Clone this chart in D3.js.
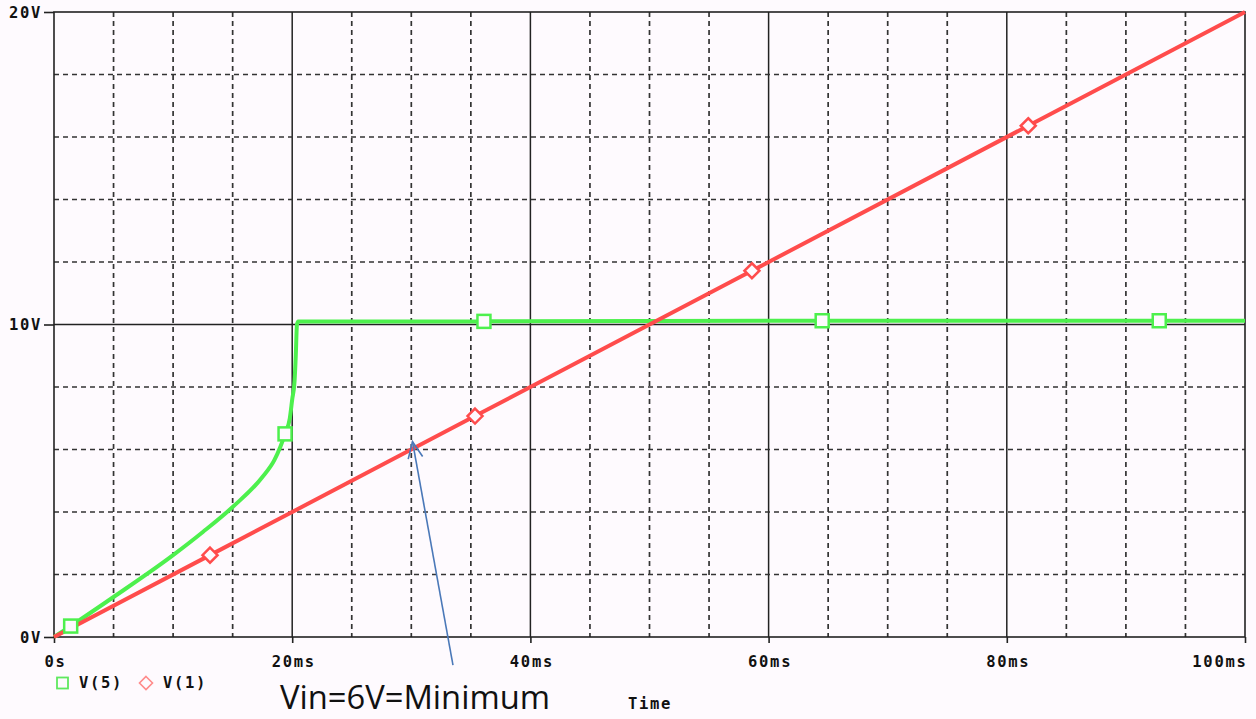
<!DOCTYPE html>
<html><head><meta charset="utf-8">
<script src="https://cdn.jsdelivr.net/npm/d3@7"></script>
<style>
html,body{margin:0;padding:0;background:#fefafe;}
svg{display:block;}
.mono{font-family:"DejaVu Sans Mono",monospace;font-weight:bold;font-size:15.5px;letter-spacing:1.7px;fill:#111;}
</style></head>
<body>
<svg id="c" width="1256" height="719"></svg>
<script>
// ---- data ----
const xTicks = [0, 20, 40, 60, 80, 100];
const xTickLabels = ["0s", "20ms", "40ms", "60ms", "80ms", "100ms"];
const yTicks = [0, 10, 20];
const yTickLabels = ["0V", "10V", "20V"];
const xGrid = [5,10,15,20,25,30,35,40,45,50,55,60,65,70,75,80,85,90,95];
const yGrid = [2,4,6,8,10,12,14,16,18];
const solidX = [20,40,60,80];
const solidY = [10];

// V(5) green trace (time ms, volts)
const v5Time = [0, 1.4, 5, 10, 12.5, 15, 17.5, 18.5, 19, 19.4, 19.8, 20.0, 20.2, 20.3, 20.4, 20.5, 36, 64.5, 100];
const v5Volt = [0, 0.35, 1.28, 2.62, 3.36, 4.16, 5.12, 5.66, 6.08, 6.5, 7.0, 7.6, 8.2, 9.0, 10.0, 10.1, 10.1, 10.12, 10.12];
const v5MarkerTime = [1.4, 19.4, 36.1, 64.5, 92.8];
const v5MarkerVolt = [0.35, 6.5, 10.1, 10.12, 10.12];

// V(1) red trace
const v1Time = [0, 13.1, 35.35, 58.6, 81.8, 100];
const v1Volt = [0, 2.62, 7.07, 11.72, 16.36, 20];
const v1MarkerTime = [13.1, 35.35, 58.6, 81.8];
const v1MarkerVolt = [2.62, 7.07, 11.72, 16.36];

const legendNames = ["V(5)", "V(1)"];
const annotationText = "Vin=6V=Minimum";
const xTitle = "Time";
// annotation arrow (data coords: ms, V) tail below axis to tip on trace
const arrowTip = [30.1, 6.25];
const arrowTail = [33.5, -0.9];

// ---- drawing ----
const GREEN = "#4df04d", RED = "#ff4c4c", BG = "#fefafe", AX = "#222";
const svg = d3.select("#c");
const x = d3.scaleLinear().domain([0, 100]).range([54, 1245]);
const y = d3.scaleLinear().domain([0, 20]).range([637, 12]);

// grid
const g = svg.append("g");
g.selectAll(".gx").data(xGrid).join("line")
  .attr("x1", d => x(d)).attr("x2", d => x(d)).attr("y1", y(20)).attr("y2", y(0))
  .attr("stroke", d => solidX.includes(d) ? AX : "#333")
  .attr("stroke-width", d => solidX.includes(d) ? 1.5 : 1.7)
  .attr("stroke-dasharray", d => solidX.includes(d) ? null : "5,4");
g.selectAll(".gy").data(yGrid).join("line")
  .attr("y1", d => y(d)).attr("y2", d => y(d)).attr("x1", x(0)).attr("x2", x(100))
  .attr("stroke", d => solidY.includes(d) ? AX : "#333")
  .attr("stroke-width", d => solidY.includes(d) ? 1.5 : 1.7)
  .attr("stroke-dasharray", d => solidY.includes(d) ? null : "5,4");

// frame
svg.append("rect").attr("x", x(0)).attr("y", y(20)).attr("width", x(100) - x(0)).attr("height", y(0) - y(20))
  .attr("fill", "none").attr("stroke", AX).attr("stroke-width", 1.6);

// axes
const xAxis = d3.axisBottom(x).tickValues(xTicks).tickSize(6).tickPadding(10)
  .tickFormat((d, i) => xTickLabels[i]);
const xa = svg.append("g").attr("transform", `translate(0,${y(0)})`).call(xAxis);
xa.select(".domain").remove();
xa.selectAll("line").attr("stroke", AX).attr("stroke-width", 1.6);
xa.selectAll("text").attr("class", "mono").attr("fill", "#111").attr("dy", "0.9em")
  .attr("text-anchor", (d, i) => i === xTicks.length - 1 ? "end" : "middle")
  .attr("dx", (d, i) => i === xTicks.length - 1 ? "2" : "1");

const yAxis = d3.axisLeft(y).tickValues(yTicks).tickSize(10).tickPadding(2)
  .tickFormat((d, i) => yTickLabels[i]);
const ya = svg.append("g").attr("transform", `translate(${x(0)},0)`).call(yAxis);
ya.select(".domain").remove();
ya.selectAll("line").attr("stroke", AX).attr("stroke-width", 1.6);
ya.selectAll("text").attr("class", "mono").attr("fill", "#111").attr("dy", "0.35em");

// traces
const line = d3.line().x(d => x(d[0])).y(d => y(d[1]));
const lineSmooth = d3.line().x(d => x(d[0])).y(d => y(d[1])).curve(d3.curveMonotoneX);
const v1 = v1Time.map((t, i) => [t, v1Volt[i]]);
const v5 = v5Time.map((t, i) => [t, v5Volt[i]]);
svg.append("path").attr("d", lineSmooth(v5)).attr("fill", "none").attr("stroke", GREEN)
  .attr("stroke-width", 4).attr("stroke-linejoin", "round");
svg.append("path").attr("d", line(v1)).attr("fill", "none").attr("stroke", RED)
  .attr("stroke-width", 4).attr("stroke-linejoin", "round");

// markers
svg.selectAll(".m5").data(v5MarkerTime).join("rect")
  .attr("x", (d) => x(d) - 6.5).attr("y", (d, i) => y(v5MarkerVolt[i]) - 6.5)
  .attr("width", 13).attr("height", 13).attr("fill", BG).attr("stroke", GREEN).attr("stroke-width", 2.5);
const diamond = (cx, cy, r) => `M${cx},${cy - r}L${cx + r},${cy}L${cx},${cy + r}L${cx - r},${cy}Z`;
svg.selectAll(".m1").data(v1MarkerTime).join("path")
  .attr("d", (d, i) => diamond(x(d), y(v1MarkerVolt[i]), 7.5))
  .attr("fill", BG).attr("stroke", RED).attr("stroke-width", 2.5);

// legend
const lg = svg.append("g");
lg.append("rect").attr("x", 57).attr("y", 677.5).attr("width", 11).attr("height", 11)
  .attr("fill", "none").attr("stroke", "#5fe85f").attr("stroke-width", 1.8);
lg.append("text").attr("class", "mono").attr("x", 79).attr("y", 683).attr("dy", "0.35em").text(legendNames[0]);
lg.append("path").attr("d", diamond(146, 683, 6.5)).attr("fill", "none").attr("stroke", "#ff8a8a").attr("stroke-width", 1.6);
lg.append("text").attr("class", "mono").attr("x", 163).attr("y", 683).attr("dy", "0.35em").text(legendNames[1]);

// x title
svg.append("text").attr("class", "mono").attr("x", 628).attr("y", 704).attr("dy", "0.35em").text(xTitle);

// annotation arrow
const tip = [x(arrowTip[0]), y(arrowTip[1])];
const tail = [x(arrowTail[0]), y(arrowTail[1])];
const ang = Math.atan2(tail[1] - tip[1], tail[0] - tip[0]);
const hl = 18, ha = 0.42;
const ARROW = "#4a78b8";
svg.append("line").attr("x1", tail[0]).attr("y1", tail[1]).attr("x2", tip[0]).attr("y2", tip[1])
  .attr("stroke", ARROW).attr("stroke-width", 1.6);
svg.append("path")
  .attr("d", `M${tip[0] + hl * Math.cos(ang + ha)},${tip[1] + hl * Math.sin(ang + ha)}L${tip[0]},${tip[1]}L${tip[0] + hl * Math.cos(ang - ha)},${tip[1] + hl * Math.sin(ang - ha)}`)
  .attr("fill", "none").attr("stroke", ARROW).attr("stroke-width", 1.6);

svg.append("text").attr("x", 280).attr("y", 709)
  .attr("textLength", 270).attr("lengthAdjust", "spacingAndGlyphs")
  .style("font-family", "'Open Sans', sans-serif").style("font-size", "32px").attr("fill", "#111")
  .text(annotationText);
</script>
</body></html>
